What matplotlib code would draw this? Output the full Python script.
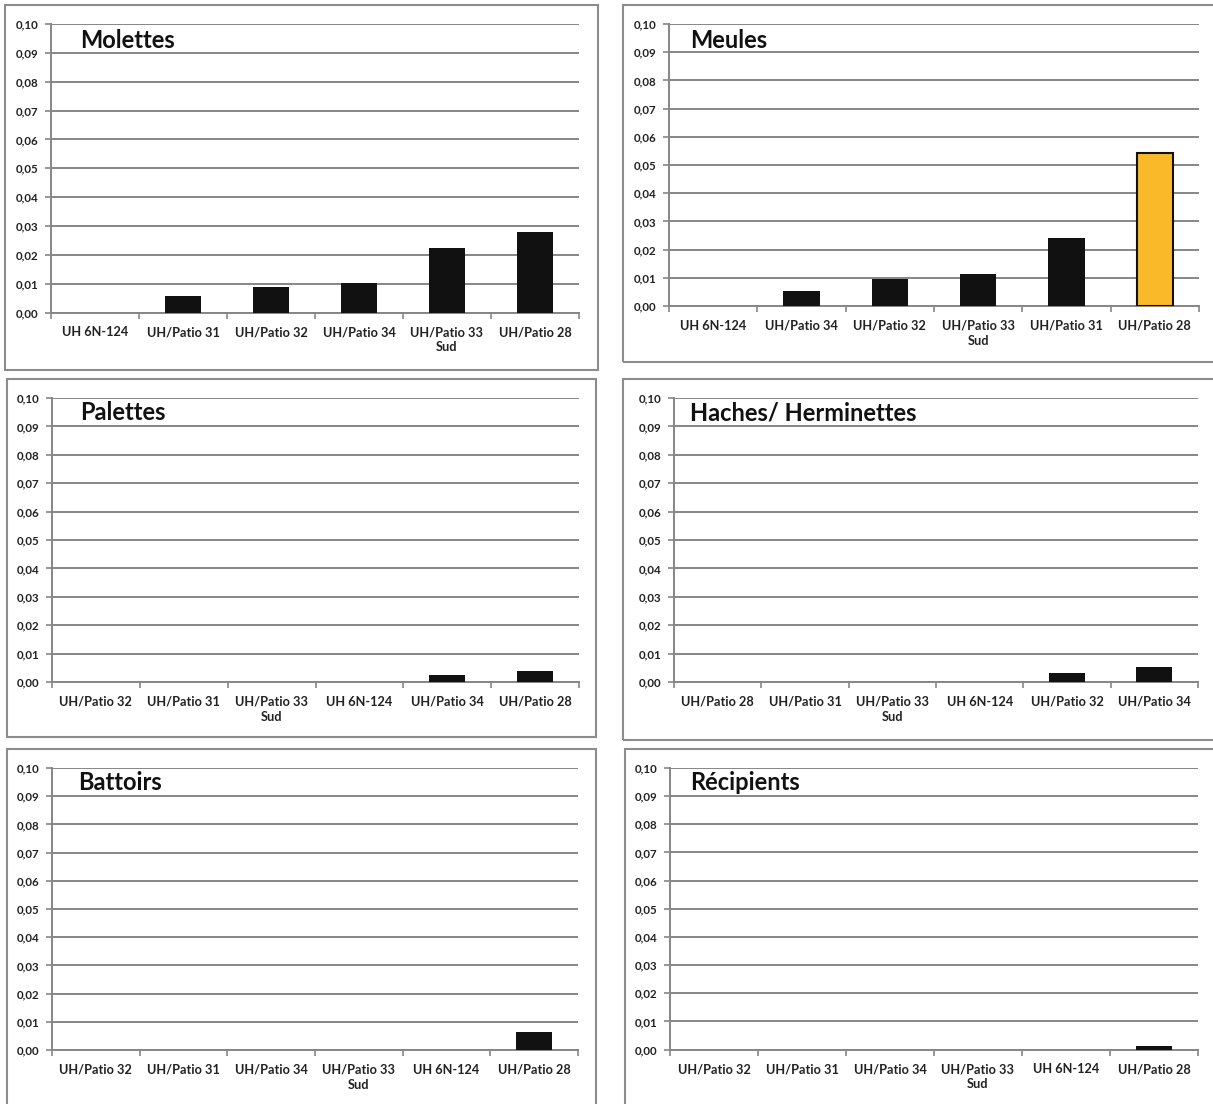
import matplotlib
matplotlib.use("Agg")
import matplotlib.pyplot as plt
from matplotlib.patches import Rectangle

plt.rcParams['font.family'] = ['Lato', 'DejaVu Sans']
plt.rcParams['font.weight'] = 'bold'

W, H = 1213, 1104

# ---- data ----
titles = ["Molettes", "Meules", "Palettes", "Haches/ Herminettes", "Battoirs", "Récipients"]

cats_molettes = ["UH 6N-124", "UH/Patio 31", "UH/Patio 32", "UH/Patio 34", "UH/Patio 33\nSud", "UH/Patio 28"]
vals_molettes = [0.0, 0.0057, 0.0088, 0.0101, 0.0224, 0.0279]

cats_meules = ["UH 6N-124", "UH/Patio 34", "UH/Patio 32", "UH/Patio 33\nSud", "UH/Patio 31", "UH/Patio 28"]
vals_meules = [0.0, 0.0052, 0.0094, 0.0115, 0.0241, 0.0542]

cats_palettes = ["UH/Patio 32", "UH/Patio 31", "UH/Patio 33\nSud", "UH 6N-124", "UH/Patio 34", "UH/Patio 28"]
vals_palettes = [0.0, 0.0, 0.0, 0.0, 0.0026, 0.0039]

cats_haches = ["UH/Patio 28", "UH/Patio 31", "UH/Patio 33\nSud", "UH 6N-124", "UH/Patio 32", "UH/Patio 34"]
vals_haches = [0.0, 0.0, 0.0, 0.0, 0.0032, 0.0054]

cats_battoirs = ["UH/Patio 32", "UH/Patio 31", "UH/Patio 34", "UH/Patio 33\nSud", "UH 6N-124", "UH/Patio 28"]
vals_battoirs = [0.0, 0.0, 0.0, 0.0, 0.0, 0.0064]

cats_recipients = ["UH/Patio 32", "UH/Patio 31", "UH/Patio 34", "UH/Patio 33\nSud", "UH 6N-124", "UH/Patio 28"]
vals_recipients = [0.0, 0.0, 0.0, 0.0, 0.0, 0.0012]

highlight = {1: 5}  # panel index -> highlighted bar index (Meules, UH/Patio 28)

yticks = [0.00, 0.01, 0.02, 0.03, 0.04, 0.05, 0.06, 0.07, 0.08, 0.09, 0.10]
ytick_labels = ["0,00", "0,01", "0,02", "0,03", "0,04", "0,05", "0,06", "0,07", "0,08", "0,09", "0,10"]

panels = [
    (cats_molettes, vals_molettes),
    (cats_meules, vals_meules),
    (cats_palettes, vals_palettes),
    (cats_haches, vals_haches),
    (cats_battoirs, vals_battoirs),
    (cats_recipients, vals_recipients),
]

# ---- layout (pixel) ----
axes_px = [
    (51, 579, 24, 312.5),
    (669, 1199, 24, 306),
    (52, 579, 398, 682),
    (674, 1198, 398, 682),
    (52, 578, 768, 1050),
    (670, 1198, 768, 1049.5),
]
boxes_px = [
    (5, 598, 5, 370),
    (623, 1216, 5, 362),
    (7, 596, 379, 737),
    (623, 1216, 379, 740),
    (7, 596, 749, 1108),
    (625, 1216, 749, 1108),
]
title_px = [(80, 40), (690, 40), (80, 413), (690, 413), (78, 783), (690, 782)]

grid_col = "#868686"
bar_col = "#111111"
hl_col = "#F9B928"

fig = plt.figure(figsize=(W / 100, H / 100), dpi=100)
fig.patch.set_facecolor("white")

for (x0, x1, y0, y1) in boxes_px:
    fig.patches.append(Rectangle((x0 / W, 1 - y1 / H), (x1 - x0) / W, (y1 - y0) / H,
                                 transform=fig.transFigure, fill=False,
                                 edgecolor="#8c8c8c", linewidth=1.5))

for i, ((cats, vals), (l, r, t, b)) in enumerate(zip(panels, axes_px)):
    ax = fig.add_axes([l / W, 1 - b / H, (r - l) / W, (b - t) / H])
    x = list(range(len(cats)))
    colors = [bar_col] * len(cats)
    lws = [0.0] * len(cats)
    if i in highlight:
        colors[highlight[i]] = hl_col
        lws[highlight[i]] = 1.5
    ax.bar(x, vals, width=0.41, color=colors, edgecolor="#111111", linewidth=lws, zorder=3)
    ax.set_xlim(-0.5, len(cats) - 0.5)
    ax.set_ylim(0, 0.10)
    ax.set_yticks(yticks)
    ax.set_yticklabels(ytick_labels, fontsize=8.3, fontweight="bold", color="#222222")
    ax.set_xticks(x)
    ax.set_xticklabels(cats, fontsize=9.2, fontweight="bold", color="#222222", linespacing=1.3)
    ax.set_xticks([k - 0.5 for k in range(len(cats) + 1)], minor=True)
    ax.tick_params(axis="x", which="major", length=0, pad=10)
    ax.tick_params(axis="x", which="minor", length=4, width=1.2, color=grid_col, direction="out")
    ax.tick_params(axis="y", length=4, width=1.2, color=grid_col, pad=5)
    ax.yaxis.grid(True, color=grid_col, linewidth=1.4, zorder=0)
    ax.set_axisbelow(True)
    for s in ["top", "right"]:
        ax.spines[s].set_visible(False)
    for s in ["left", "bottom"]:
        ax.spines[s].set_color(grid_col)
        ax.spines[s].set_linewidth(1.4)
    ax.set_facecolor("none")
    tx, ty = title_px[i]
    fig.text(tx / W, 1 - ty / H, titles[i], fontsize=17, fontweight="bold",
             color="#111111", ha="left", va="center")

fig.savefig("out.png", dpi=100, facecolor="white")
